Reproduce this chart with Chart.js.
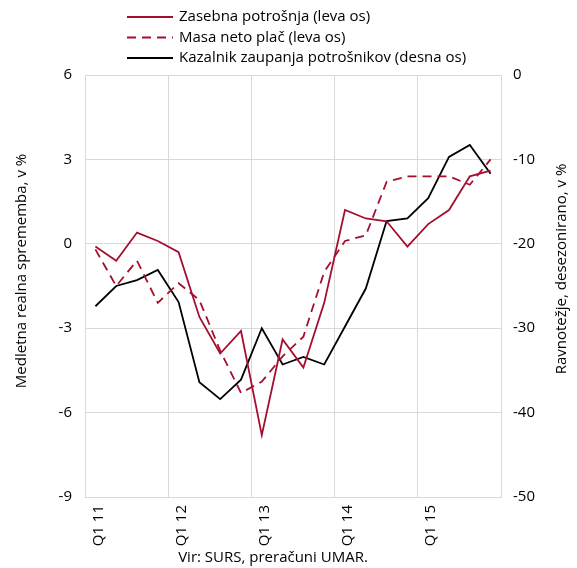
<!DOCTYPE html>
<html>
<head>
<meta charset="utf-8">
<script src="https://cdn.jsdelivr.net/npm/chart.js@4/dist/chart.umd.min.js"></script>
<style>
  html, body { margin: 0; padding: 0; background: #fff; }
  #okvir { width: 577px; height: 568px; position: relative; }
</style>
</head>
<body>
<div id="okvir"><canvas id="graf"></canvas></div>
<script>
// Četrtletja Q1 11 - Q4 15
const cetrtletja = [
    'Q1 11', 'Q2 11', 'Q3 11', 'Q4 11',
    'Q1 12', 'Q2 12', 'Q3 12', 'Q4 12',
    'Q1 13', 'Q2 13', 'Q3 13', 'Q4 13',
    'Q1 14', 'Q2 14', 'Q3 14', 'Q4 14',
    'Q1 15', 'Q2 15', 'Q3 15', 'Q4 15'
];

// Leva os, medletna realna sprememba v %
const zasebnaPotrosnja = [-0.1, -0.6, 0.4, 0.1, -0.3, -2.6, -3.9, -3.1, -6.8, -3.4, -4.4, -2.1, 1.2, 0.9, 0.8, -0.1, 0.7, 1.2, 2.4, 2.6];
const masaNetoPlac = [-0.2, -1.5, -0.6, -2.1, -1.4, -2.0, -3.8, -5.3, -4.9, -4.0, -3.3, -1.0, 0.1, 0.3, 2.2, 2.4, 2.4, 2.4, 2.1, 3.0];

// Desna os, ravnotežje v %
const kazalnikZaupanja = [-27.4, -25.0, -24.3, -23.1, -26.9, -36.4, -38.4, -36.1, -30.0, -34.3, -33.4, -34.3, -29.8, -25.3, -17.3, -17.0, -14.6, -9.7, -8.3, -11.7];

const imenaSerij = ['Zasebna potrošnja (leva os)', 'Masa neto plač (leva os)', 'Kazalnik zaupanja potrošnikov (desna os)'];
const naslovLeve = 'Medletna realna sprememba, v %';
const naslovDesne = 'Ravnotežje, desezonirano, v %';
const vir = 'Vir: SURS, preračuni UMAR.';

const RDECA = '#a50f2d';
const SIVA = '#d9d9d9';
const PISAVA = '"Open Sans", "Noto Sans", sans-serif';

// Legenda in naslovi osi (naslov desne osi bere od spodaj navzgor)
const besedilaPlugin = {
    id: 'besedila',
    afterDraw(chart) {
        const ctx = chart.ctx;
        ctx.save();
        ctx.fillStyle = '#000';
        ctx.font = '15px ' + PISAVA;
        ctx.textBaseline = 'middle';

        // legenda
        chart.data.datasets.forEach((ds, i) => {
            const y = 17 + i * 20.5;
            ctx.save();
            ctx.strokeStyle = ds.borderColor;
            ctx.lineWidth = ds.borderWidth;
            ctx.setLineDash(ds.borderDash || []);
            ctx.beginPath();
            ctx.moveTo(127, y);
            ctx.lineTo(173, y);
            ctx.stroke();
            ctx.restore();
            ctx.textAlign = 'left';
            ctx.fillText(ds.label, 179, y);
        });

        ctx.textAlign = 'center';
        ctx.save();
        ctx.translate(22, 271);
        ctx.rotate(-Math.PI / 2);
        ctx.fillText(naslovLeve, 0, 0);
        ctx.restore();

        ctx.save();
        ctx.translate(562, 269);
        ctx.rotate(-Math.PI / 2);
        ctx.fillText(naslovDesne, 0, 0);
        ctx.restore();

        ctx.fillText(vir, 273, 558);
        ctx.restore();
    }
};

function initGraf() {
    const ctx = document.getElementById('graf');
    if (!ctx) return;

    new Chart(ctx, {
        type: 'line',
        data: {
            labels: cetrtletja,
            datasets: [{
                label: imenaSerij[0],
                data: zasebnaPotrosnja,
                borderColor: RDECA,
                borderWidth: 1.8,
                yAxisID: 'y'
            }, {
                label: imenaSerij[1],
                data: masaNetoPlac,
                borderColor: RDECA,
                borderWidth: 1.8,
                borderDash: [9, 6],
                yAxisID: 'y'
            }, {
                label: imenaSerij[2],
                data: kazalnikZaupanja,
                borderColor: '#000',
                borderWidth: 1.8,
                yAxisID: 'y1'
            }]
        },
        options: {
            responsive: true,
            maintainAspectRatio: false,
            animation: false,
            layout: { padding: { top: 75, left: 0, right: 0, bottom: 0 } },
            elements: {
                point: { radius: 0 },
                line: { tension: 0 }
            },
            plugins: {
                legend: { display: false },
                tooltip: { enabled: false }
            },
            scales: {
                x: {
                    offset: true,
                    grid: {
                        offset: true,
                        drawTicks: false,
                        color: c => (c.index % 4 === 0 ? SIVA : 'rgba(0,0,0,0)')
                    },
                    border: { color: SIVA },
                    ticks: {
                        autoSkip: false,
                        maxRotation: 90,
                        minRotation: 90,
                        padding: 8,
                        labelOffset: 3,
                        color: '#000',
                        font: { family: PISAVA, size: 15 },
                        callback: function(val, i) {
                            return i % 4 === 0 ? this.getLabelForValue(val) : '';
                        }
                    },
                    afterFit: s => { s.height = 71; }
                },
                y: {
                    position: 'left',
                    min: -9,
                    max: 6,
                    grid: { color: SIVA, drawTicks: false },
                    border: { color: SIVA },
                    ticks: {
                        stepSize: 3,
                        padding: 13,
                        color: '#000',
                        font: { family: PISAVA, size: 15 }
                    },
                    afterFit: s => { s.width = 85; }
                },
                y1: {
                    position: 'right',
                    min: -50,
                    max: 0,
                    grid: { drawOnChartArea: false, drawTicks: false },
                    border: { color: SIVA },
                    ticks: {
                        stepSize: 10,
                        padding: 12,
                        color: '#000',
                        font: { family: PISAVA, size: 15 }
                    },
                    afterFit: s => { s.width = 76; }
                }
            }
        },
        plugins: [besedilaPlugin]
    });
}

document.addEventListener('DOMContentLoaded', initGraf);
</script>
</body>
</html>
